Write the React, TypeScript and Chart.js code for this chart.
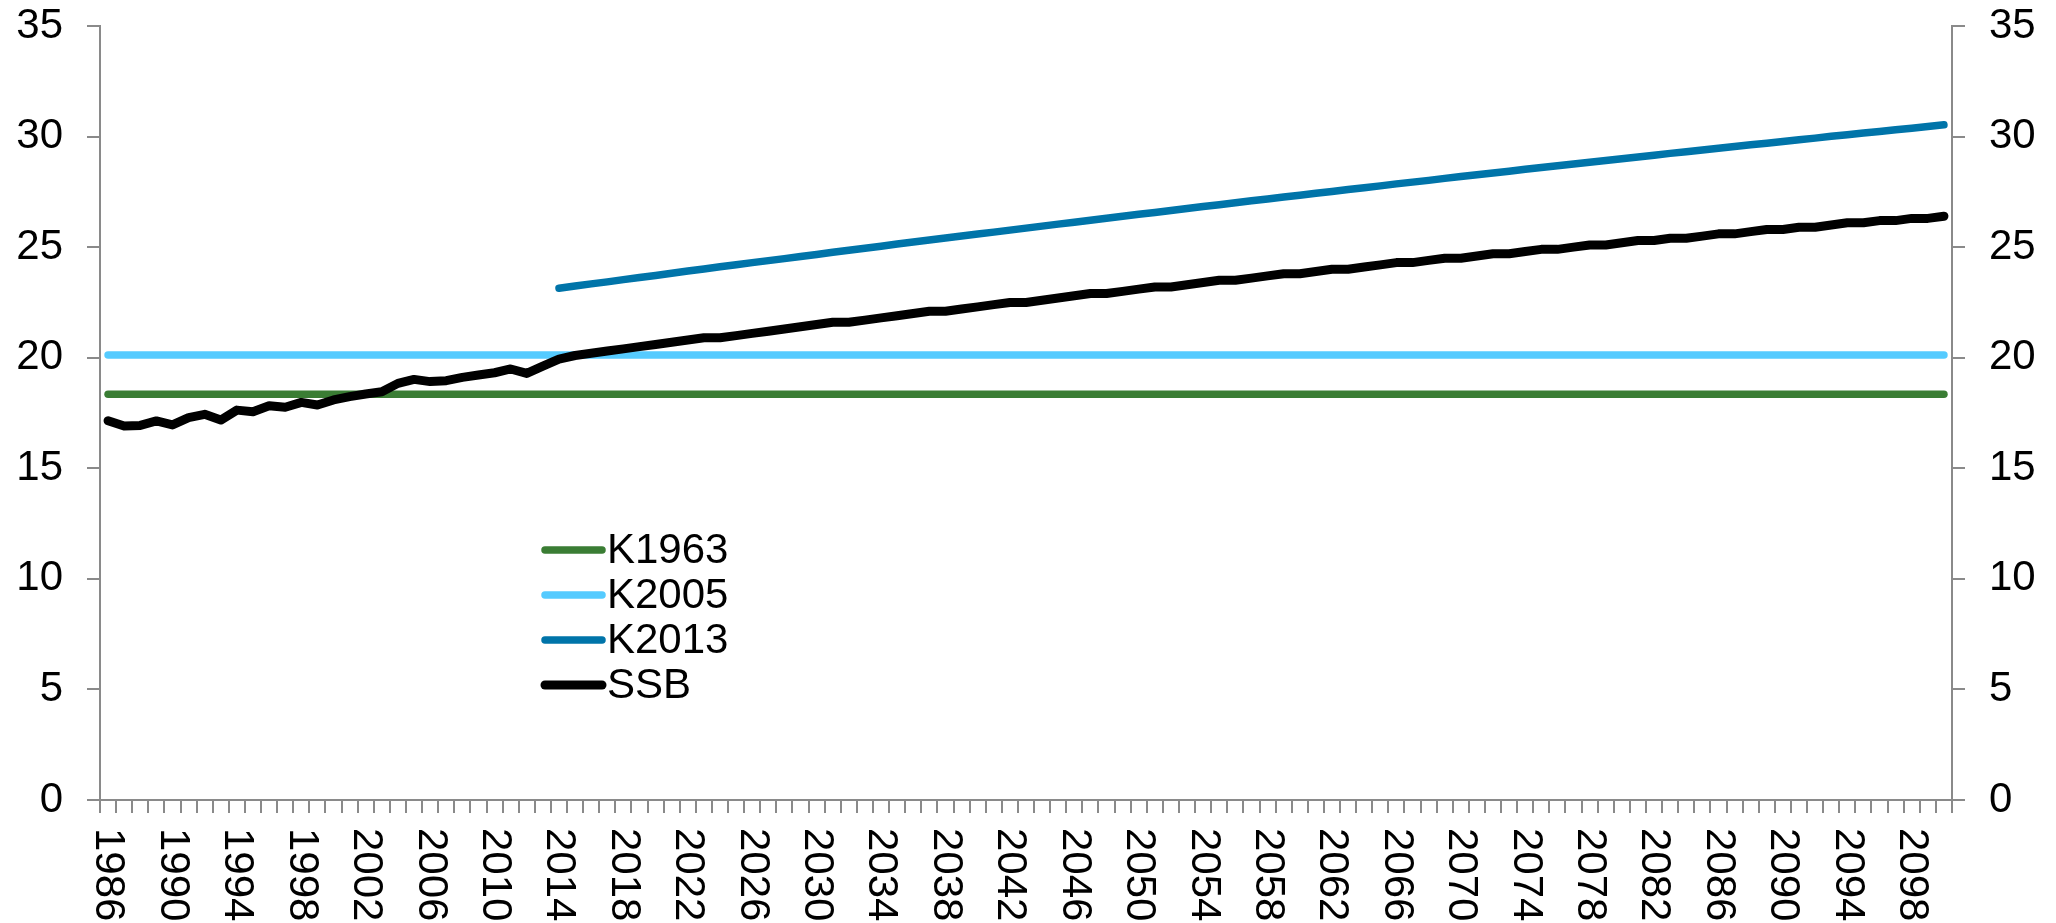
import React, { useEffect, useRef } from "react";
import { Chart, registerables } from "chart.js";

Chart.register(...registerables);

const FIRST_YEAR = 1986;
const LAST_YEAR = 2100;
const years: string[] = Array.from({ length: LAST_YEAR - FIRST_YEAR + 1 }, (_, i) => String(FIRST_YEAR + i));

const K1963_VALUE = 18.35;
const K2005_VALUE = 20.12;
const k1963: number[] = years.map(() => K1963_VALUE);
const k2005: number[] = years.map(() => K2005_VALUE);

// K2013 starts in 2014
const k2013Start = 2014;
const k2013Values: number[] = [
  23.14, 23.24, 23.34, 23.43, 23.53, 23.63, 23.72, 23.82, 23.92, 24.01,
  24.11, 24.2, 24.3, 24.39, 24.48, 24.58, 24.67, 24.77, 24.86, 24.95,
  25.04, 25.14, 25.23, 25.32, 25.41, 25.5, 25.59, 25.68, 25.77, 25.86,
  25.95, 26.04, 26.13, 26.22, 26.31, 26.4, 26.49, 26.57, 26.66, 26.75,
  26.84, 26.92, 27.01, 27.1, 27.18, 27.27, 27.35, 27.44, 27.52, 27.61,
  27.69, 27.77, 27.86, 27.94, 28.02, 28.11, 28.19, 28.27, 28.35, 28.43,
  28.52, 28.6, 28.68, 28.76, 28.84, 28.92, 29.0, 29.08, 29.16, 29.24,
  29.31, 29.39, 29.47, 29.55, 29.63, 29.7, 29.78, 29.86, 29.93, 30.01,
  30.08, 30.16, 30.23, 30.31, 30.38, 30.46, 30.53,
];
const k2013: (number | null)[] = [
  ...years.slice(0, k2013Start - FIRST_YEAR).map(() => null),
  ...k2013Values,
];

// SSB 1986-2100
const ssb: number[] = [
  17.15, 16.91, 16.94, 17.14, 16.96, 17.29, 17.44, 17.18, 17.63, 17.56,
  17.83, 17.76, 17.98, 17.86, 18.09, 18.24, 18.36, 18.46, 18.84, 19.02,
  18.92, 18.96, 19.11, 19.22, 19.32, 19.49, 19.29, 19.62, 19.94,
  20.1, 20.2, 20.3, 20.4, 20.5, 20.6, 20.7, 20.8, 20.9, 20.9,
  21.0, 21.1, 21.2, 21.3, 21.4, 21.5, 21.6, 21.6, 21.7, 21.8,
  21.9, 22.0, 22.1, 22.1, 22.2, 22.3, 22.4, 22.5, 22.5, 22.6,
  22.7, 22.8, 22.9, 22.9, 23.0, 23.1, 23.2, 23.2, 23.3, 23.4,
  23.5, 23.5, 23.6, 23.7, 23.8, 23.8, 23.9, 24.0, 24.0, 24.1,
  24.2, 24.3, 24.3, 24.4, 24.5, 24.5, 24.6, 24.7, 24.7, 24.8,
  24.9, 24.9, 25.0, 25.1, 25.1, 25.2, 25.3, 25.3, 25.4, 25.4,
  25.5, 25.6, 25.6, 25.7, 25.8, 25.8, 25.9, 25.9, 26.0, 26.1,
  26.1, 26.2, 26.2, 26.3, 26.3, 26.4,
];

const seriesNames = ["K1963", "K2005", "K2013", "SSB"];
const seriesColors = ["#3a7d34", "#55cbff", "#0074a9", "#000000"];
const seriesWidths = [7.5, 7.5, 7.5, 9];
const yTicks = [0, 5, 10, 15, 20, 25, 30, 35];

const FONT = "'Liberation Sans', Arial, sans-serif";
const FONT_SIZE = 42;
const AXIS_COLOR = "#8a8a8a";

const overlayPlugin = {
  id: "overlay",
  afterDraw(chart: any) {
    const ctx = chart.ctx;
    const xs = chart.scales.x;
    ctx.save();
    // rotated x labels (reading top to bottom)
    ctx.fillStyle = "#000";
    ctx.font = `${FONT_SIZE}px ${FONT}`;
    ctx.textAlign = "left";
    ctx.textBaseline = "middle";
    const labelTop = chart.chartArea.bottom + 28;
    years.forEach((y, i) => {
      if (i % 4 !== 0) return;
      const px = xs.getPixelForValue(i);
      ctx.save();
      ctx.translate(px, labelTop);
      ctx.rotate(Math.PI / 2);
      ctx.fillText(y, 0, 0);
      ctx.restore();
    });
    // legend
    const lx0 = 545;
    const lx1 = 602;
    const ty0 = 550;
    const dy = 45;
    seriesNames.forEach((name, i) => {
      const y = ty0 + i * dy;
      ctx.beginPath();
      ctx.strokeStyle = seriesColors[i];
      ctx.lineWidth = seriesWidths[i];
      ctx.lineCap = "round";
      ctx.moveTo(lx0, y);
      ctx.lineTo(lx1, y);
      ctx.stroke();
      ctx.fillStyle = "#000";
      ctx.font = `${FONT_SIZE}px ${FONT}`;
      ctx.textAlign = "left";
      ctx.textBaseline = "middle";
      ctx.fillText(name, 607, y + 1);
    });
    ctx.restore();
  },
};

export default function App() {
  const ref = useRef<HTMLCanvasElement>(null);
  useEffect(() => {
    if (!ref.current) return;
    const mk = (label: string, data: any[], color: string, width: number, order: number) => ({
      label,
      data,
      borderColor: color,
      backgroundColor: color,
      borderWidth: width,
      pointRadius: 0,
      pointHoverRadius: 0,
      tension: 0,
      borderCapStyle: "round" as const,
      borderJoinStyle: "round" as const,
      fill: false,
      spanGaps: false,
      order,
      yAxisID: "y",
    });
    const yScale = (position: "left" | "right", width: number) => ({
      position,
      display: true,
      min: 0,
      max: 35,
      afterBuildTicks: (s: any) => {
        s.ticks = yTicks.map((v) => ({ value: v }));
      },
      grid: {
        display: true,
        drawOnChartArea: false,
        drawTicks: true,
        tickLength: 13,
        color: AXIS_COLOR,
        lineWidth: 2,
      },
      border: { display: true, color: AXIS_COLOR, width: 2 },
      ticks: { color: "#000", font: { family: FONT, size: FONT_SIZE }, padding: 24 },
      afterFit: (s: any) => {
        s.width = width;
        s.paddingTop = 0;
        s.paddingBottom = 0;
      },
    });
    const chart = new Chart(ref.current, {
      type: "line",
      data: {
        labels: years,
        datasets: [
          mk(seriesNames[0], k1963, seriesColors[0], seriesWidths[0], 3),
          mk(seriesNames[1], k2005, seriesColors[1], seriesWidths[1], 2),
          mk(seriesNames[2], k2013, seriesColors[2], seriesWidths[2], 1),
          mk(seriesNames[3], ssb, seriesColors[3], seriesWidths[3], 0),
        ],
      },
      options: {
        responsive: false,
        animation: false,
        events: [],
        layout: { padding: { top: 26, left: 0, right: 0, bottom: 0 } },
        plugins: { legend: { display: false }, tooltip: { enabled: false } },
        scales: {
          x: {
            type: "category",
            offset: true,
            grid: {
              display: true,
              offset: true,
              drawOnChartArea: false,
              drawTicks: true,
              tickLength: 13,
              color: AXIS_COLOR,
              lineWidth: 2,
            },
            border: { display: true, color: AXIS_COLOR, width: 2 },
            ticks: { display: false },
            afterFit: (s: any) => {
              s.height = 123;
              s.paddingLeft = 0;
              s.paddingRight = 0;
            },
          },
          y: yScale("left", 100),
          y2: yScale("right", 104),
        },
      },
      plugins: [overlayPlugin],
    });
    return () => chart.destroy();
  }, []);
  return (
    <div style={{ position: "fixed", left: 0, top: 0, width: 2056, height: 923, background: "#fff" }}>
      <canvas ref={ref} width={2056} height={923} style={{ display: "block" }} />
    </div>
  );
}
